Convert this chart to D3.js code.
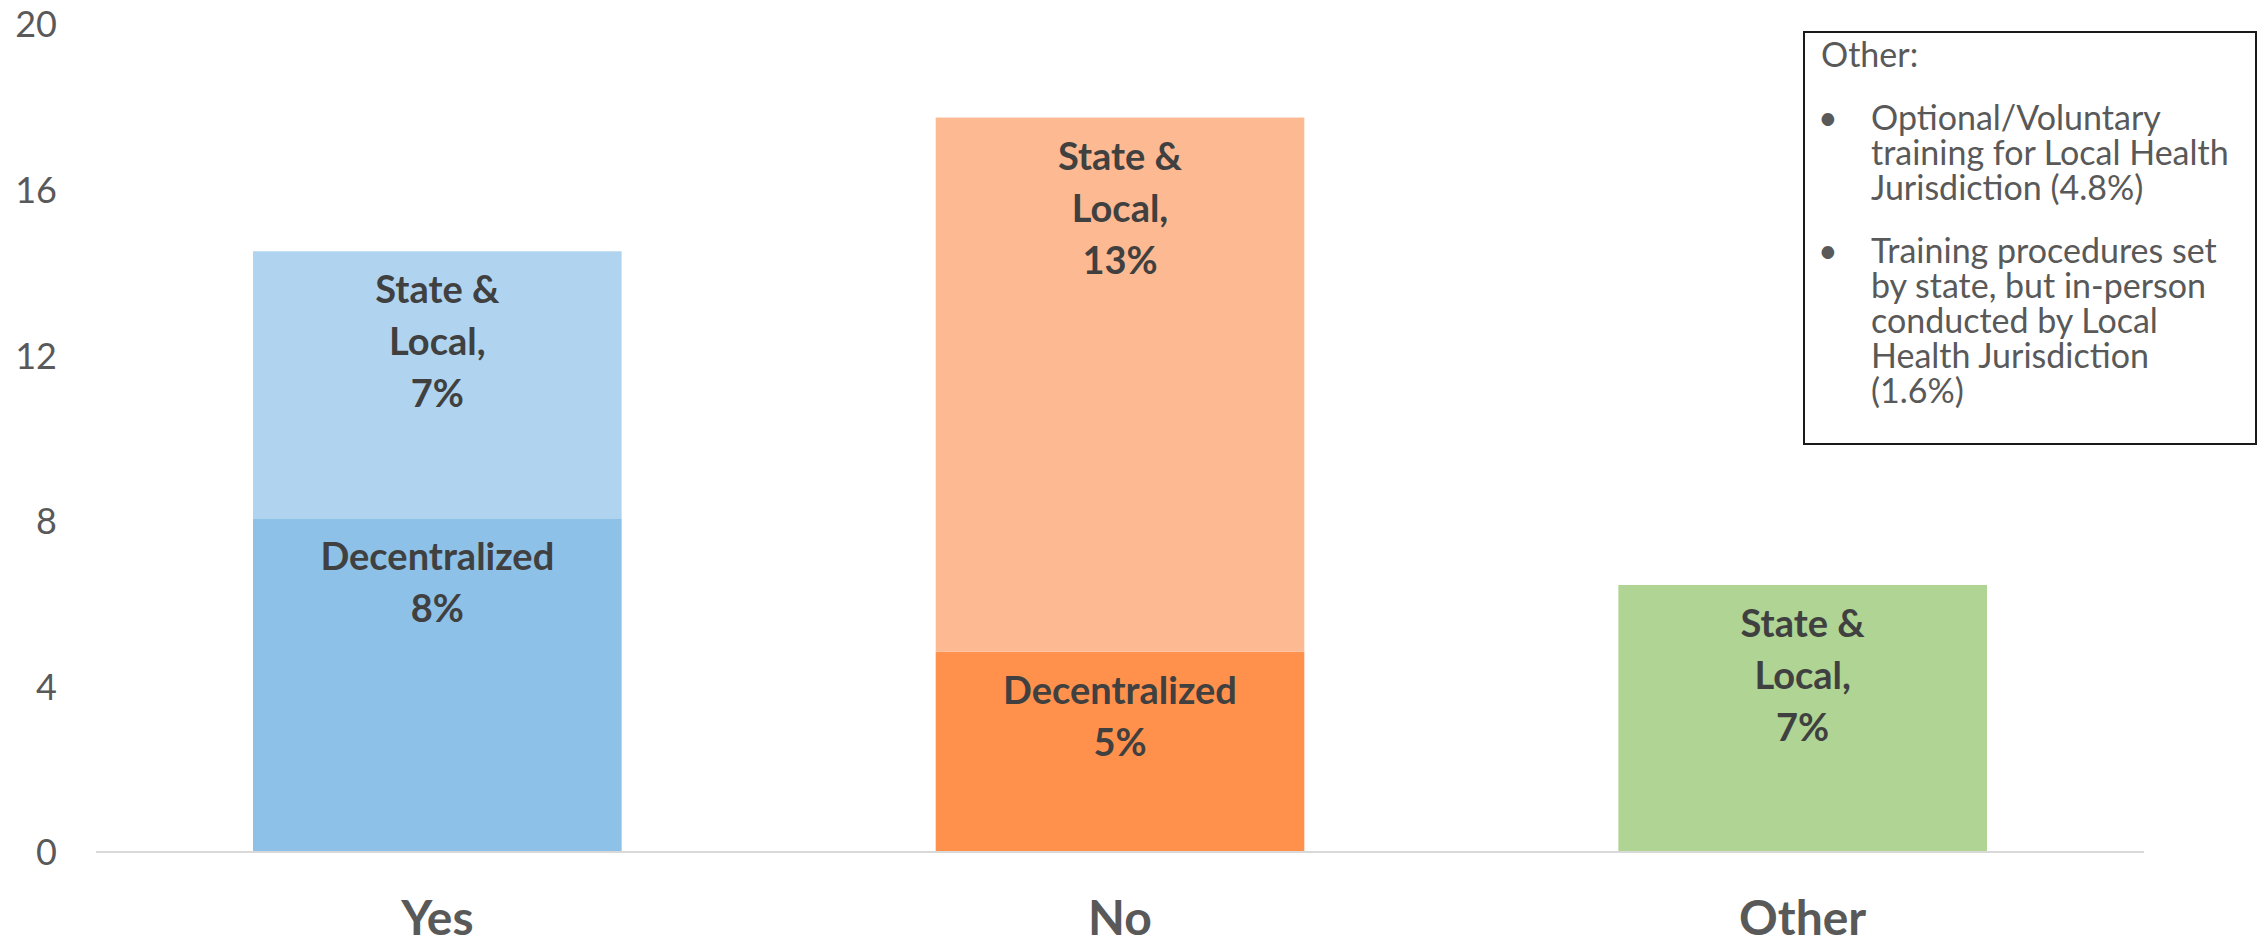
<!DOCTYPE html>
<html>
<head>
<meta charset="utf-8">
<script src="https://cdn.jsdelivr.net/npm/d3@7"></script>
<style>
  html, body { margin: 0; padding: 0; background: #ffffff; }
  svg { display: block; }
</style>
</head>
<body>
<svg id="chart" width="2265" height="942"></svg>
<script>
// ---- data ----
const categories = ["Yes", "No", "Other"];
const decentralized = [8.06, 4.84, 0];
const stateLocal = [6.45, 12.90, 6.45];
const decentralizedLabels = ["8%", "5%", ""];
const stateLocalLabels = ["7%", "13%", "7%"];
const yTicks = [0, 4, 8, 12, 16, 20];
const darkColors = ["#8dc1e7", "#ff914d", "#afd494"];
const lightColors = ["#b0d4ef", "#fdb991", "#afd494"];
const noteTitle = "Other:";
const noteItems = [
  ["Optional/Voluntary", "training for Local Health", "Jurisdiction (4.8%)"],
  ["Training procedures set", "by state, but in-person", "conducted by Local", "Health Jurisdiction", "(1.6%)"]
];

// ---- layout ----
const svg = d3.select("#chart");
const plot = { left: 96, right: 2144, top: 24, bottom: 852 };

const x = d3.scaleBand()
  .domain(categories)
  .range([plot.left, plot.right])
  .paddingInner(0.46)
  .paddingOuter(0.23);

const y = d3.scaleLinear()
  .domain([0, 20])
  .range([plot.bottom, plot.top]);

const table = categories.map((c, i) => ({
  category: c,
  decentralized: decentralized[i],
  stateLocal: stateLocal[i]
}));
const stack = d3.stack().keys(["decentralized", "stateLocal"]);
const series = stack(table);

// bars
series.forEach(s => {
  svg.append("g").selectAll("rect")
    .data(s.filter(d => d[1] - d[0] > 0))
    .join("rect")
    .attr("x", d => x(d.data.category))
    .attr("width", x.bandwidth())
    .attr("y", d => y(d[1]))
    .attr("height", d => y(d[0]) - y(d[1]))
    .attr("fill", d => {
      const i = categories.indexOf(d.data.category);
      return s.key === "decentralized" ? darkColors[i] : lightColors[i];
    });
});

// data labels
const labelFont = "Lato, 'Open Sans', sans-serif";
series.forEach(s => {
  s.forEach((d, i) => {
    if (d[1] - d[0] <= 0) return;
    const lines = s.key === "decentralized"
      ? ["Decentralized", decentralizedLabels[i]]
      : ["State &", "Local,", stateLocalLabels[i]];
    const t = svg.append("text")
      .attr("text-anchor", "middle")
      .attr("font-family", labelFont)
      .attr("font-weight", 700)
      .attr("font-size", 38)
      .attr("fill", "#404040");
    lines.forEach((ln, k) => {
      t.append("tspan")
        .attr("x", x(d.data.category) + x.bandwidth() / 2)
        .attr("y", y(d[1]) + 52 + k * 52)
        .text(ln);
    });
  });
});

// baseline (category axis line)
svg.append("line")
  .attr("x1", plot.left).attr("x2", plot.right)
  .attr("y1", y(0)).attr("y2", y(0))
  .attr("stroke", "#d9d9d9")
  .attr("stroke-width", 2);

// y axis labels
const yAxis = d3.axisLeft(y).tickValues(yTicks).tickSize(0).tickPadding(3);
const gy = svg.append("g").attr("transform", "translate(60,0)").call(yAxis);
gy.select(".domain").remove();
gy.selectAll("text")
  .attr("font-family", labelFont)
  .attr("font-size", 36)
  .attr("fill", "#595959")
  .attr("dy", "0.36em");

// x axis labels
const xAxis = d3.axisBottom(x).tickSize(0);
const gx = svg.append("g").attr("transform", `translate(0,${y(0)})`).call(xAxis);
gx.select(".domain").remove();
gx.selectAll("text")
  .attr("font-family", labelFont)
  .attr("font-weight", 700)
  .attr("font-size", 48)
  .attr("fill", "#595959")
  .attr("y", 83)
  .attr("dy", 0);

// note box
const box = { x: 1804, y: 32, w: 452, h: 412 };
svg.append("rect")
  .attr("x", box.x).attr("y", box.y)
  .attr("width", box.w).attr("height", box.h)
  .attr("fill", "#ffffff")
  .attr("stroke", "#1a1a1a")
  .attr("stroke-width", 2);

const noteFont = 34;
const lineH = 35;
const paraGap = 28;
const note = svg.append("g")
  .attr("font-family", labelFont)
  .attr("font-size", noteFont)
  .attr("fill", "#595959");
let base = 67;
note.append("text").attr("x", 1821).attr("y", base).text(noteTitle);
base += lineH + paraGap;
noteItems.forEach(item => {
  note.append("text").attr("x", 1818).attr("y", base).text("•");
  const t = note.append("text");
  item.forEach((ln, k) => {
    t.append("tspan").attr("x", 1871).attr("y", base + k * lineH).text(ln);
  });
  base += item.length * lineH + paraGap;
});
</script>
</body>
</html>
